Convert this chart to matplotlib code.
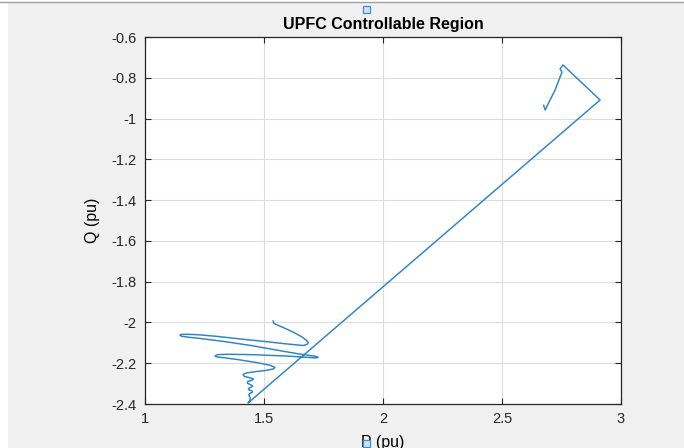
import matplotlib
matplotlib.use("Agg")
import matplotlib.pyplot as plt
from matplotlib.patches import Rectangle
from matplotlib.lines import Line2D

# P-Q trajectory (pu)
P = [1.538, 1.542, 1.555, 1.575, 1.600, 1.630, 1.658, 1.677, 1.686, 1.682, 1.665,
     1.600, 1.500, 1.400, 1.300, 1.220, 1.170, 1.150, 1.147, 1.155, 1.180, 1.220, 1.330,
     1.450, 1.560, 1.650, 1.705, 1.724, 1.727, 1.715, 1.680, 1.600, 1.450, 1.350, 1.305,
     1.294, 1.300, 1.330, 1.390, 1.470, 1.525, 1.546, 1.540, 1.510, 1.460, 1.425, 1.412,
     1.418, 1.440, 1.456, 1.450, 1.432, 1.430, 1.445, 1.453, 1.445, 1.434, 1.437, 1.450,
     1.452, 1.440, 1.436, 1.442, 1.440, 1.433,
     2.912, 2.756, 2.744, 2.752, 2.723, 2.681, 2.675]
Q = [-1.993, -2.005, -2.012, -2.022, -2.035, -2.052, -2.070, -2.086, -2.098, -2.107, -2.113,
     -2.106, -2.093, -2.081, -2.068, -2.060, -2.058, -2.059, -2.063, -2.068, -2.072, -2.077, -2.093,
     -2.114, -2.137, -2.155, -2.164, -2.168, -2.172, -2.174, -2.171, -2.165, -2.158, -2.156, -2.158,
     -2.164, -2.169, -2.173, -2.182, -2.197, -2.210, -2.220, -2.228, -2.235, -2.242, -2.248, -2.256,
     -2.265, -2.271, -2.277, -2.283, -2.290, -2.298, -2.306, -2.312, -2.318, -2.324, -2.331, -2.336,
     -2.342, -2.348, -2.355, -2.370, -2.385, -2.395,
     -0.909, -0.737, -0.757, -0.772, -0.860, -0.958, -0.935]

xticks = [1, 1.5, 2, 2.5, 3]
xticklabels = ["1", "1.5", "2", "2.5", "3"]
yticks = [-2.4, -2.2, -2, -1.8, -1.6, -1.4, -1.2, -1, -0.8, -0.6]
yticklabels = ["-2.4", "-2.2", "-2", "-1.8", "-1.6", "-1.4", "-1.2", "-1", "-0.8", "-0.6"]

plt.rcParams['font.family'] = ['Liberation Sans', 'DejaVu Sans']

W, H = 684, 448
fig = plt.figure(figsize=(W / 100, H / 100), dpi=100)
fig.patch.set_facecolor("white")

# grey figure panel with thin frame line on top
fig.add_artist(Rectangle((8 / W, 0), 1 - 8 / W, 1 - 3 / H, transform=fig.transFigure,
                         facecolor="#f0f0f0", edgecolor="none", zorder=0))
fig.add_artist(Line2D([0, 1], [1 - 2.5 / H, 1 - 2.5 / H], transform=fig.transFigure,
                      color="#a0a0a0", lw=1, zorder=1))
fig.text(40 / W, 1 + 9 / H, "g", fontsize=13, ha="center", va="baseline", color="#202020")

ax = fig.add_axes([145 / W, 44 / H, (621 - 145) / W, (404 - 37) / H])
ax.set_facecolor("white")
ax.plot(P, Q, color="#2a84c8", lw=1.05)

ax.set_xlim(1, 3)
ax.set_ylim(-2.4, -0.6)
ax.set_xticks(xticks)
ax.set_xticklabels(xticklabels)
ax.set_yticks(yticks)
ax.set_yticklabels(yticklabels)
ax.grid(True, color="#dcdcdc", lw=0.8)
ax.set_axisbelow(True)
for s in ax.spines.values():
    s.set_color("#262626")
    s.set_linewidth(0.9)
ax.tick_params(direction="in", length=4, color="#262626", labelcolor="#262626",
               labelsize=10.5, top=True, right=True, pad=6)
ax.tick_params(axis="x", labeltop=False)
ax.tick_params(axis="y", labelright=False)

ax.set_title("UPFC Controllable Region", fontsize=11.5, fontweight="bold", pad=6)
ax.set_xlabel("P (pu)", fontsize=11.5, labelpad=6)
ax.set_ylabel("Q (pu)", fontsize=11.5, labelpad=8)

# selection handles drawn by the figure editor
for cy in [10, 443]:
    fig.add_artist(Rectangle(((366 - 3.5) / W, 1 - (cy + 3.5) / H), 7 / W, 7 / H,
                             transform=fig.transFigure, facecolor="#cfe4f7",
                             edgecolor="#3c8fd6", lw=0.9, zorder=5))

fig.savefig("out.png", dpi=100)
